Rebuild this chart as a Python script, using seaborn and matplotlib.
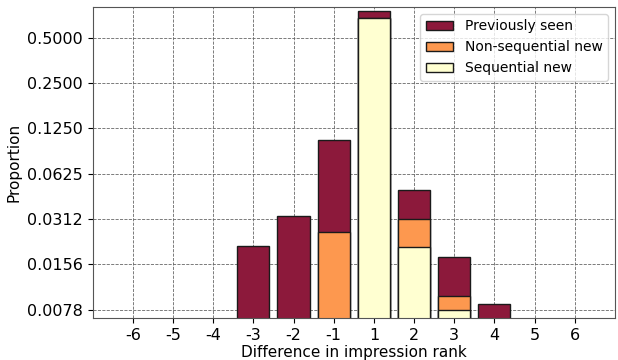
import numpy as np
import pandas as pd
import matplotlib
matplotlib.use("Agg")
import matplotlib.pyplot as plt
import matplotlib.ticker as mticker
from matplotlib.patches import Patch
import seaborn as sns

# rank differences (no zero)
ranks = ["-6", "-5", "-4", "-3", "-2", "-1", "1", "2", "3", "4", "5", "6"]

# proportions of each kind
sequential_new = [0, 0, 0, 0, 0, 0, 0.675, 0.0204, 0.0078, 0, 0, 0]
nonsequential_new = [0, 0, 0, 0, 0, 0.0255, 0, 0.0111, 0.0018, 0, 0, 0]
previously_seen = [0, 0, 0, 0.0208, 0.0328, 0.0795, 0.080, 0.0172, 0.0078, 0.00855, 0, 0]

labels = ["Previously seen", "Non-sequential new", "Sequential new"]
# YlOrRd colours at alpha 0.9 over white
colors = ["#8c193b", "#fd984f", "#ffffd1"]

df = pd.DataFrame({
    "rank": ranks,
    "seq": sequential_new,
    "nonseq": nonsequential_new,
    "prev": previously_seen,
})
# stacked tops
df["top_seq"] = df["seq"]
df["top_nonseq"] = df["seq"] + df["nonseq"]
df["top_prev"] = df["top_nonseq"] + df["prev"]
for c in ["top_seq", "top_nonseq", "top_prev"]:
    df[c] = df[c].where(df[c] > 0)

fig = plt.figure(figsize=(6.18, 3.6), dpi=100)
ax = fig.add_axes([0.150, 0.117, 0.845, 0.864])
ax.set_yscale("log", base=2)

for col, color in zip(["top_prev", "top_nonseq", "top_seq"], colors):
    sns.barplot(data=df, x="rank", y=col, order=ranks, color=color, saturation=1,
                edgecolor="#1a1a1a", linewidth=1, width=0.8, ax=ax,
                errorbar=None)

ax.set_yticks([2.0 ** k for k in range(-7, 0)])
ax.yaxis.set_major_formatter(mticker.FormatStrFormatter("%.4f"))
ax.yaxis.set_minor_locator(mticker.NullLocator())
ax.set_ylim(0.0069, 0.80)
ax.set_xlim(-1, 12)

ax.set_axisbelow(True)
ax.grid(True, linestyle="--", color="#666666", linewidth=0.6)
for s in ax.spines.values():
    s.set_color("#555555")

ax.tick_params(labelsize=11.5)
ax.set_xlabel("Difference in impression rank", fontsize=11, labelpad=2)
ax.set_ylabel("Proportion", fontsize=11)

handles = [Patch(facecolor=c, edgecolor="#1a1a1a") for c in colors]
ax.legend(handles, labels, loc="upper right", fontsize=10, framealpha=0.8)

fig.savefig("out.png", dpi=100)
